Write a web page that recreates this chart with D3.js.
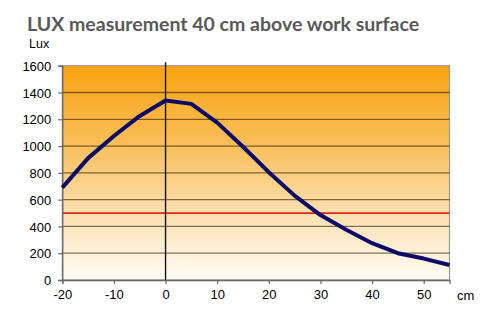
<!DOCTYPE html>
<html>
<head>
<meta charset="utf-8">
<script src="https://cdn.jsdelivr.net/npm/d3@7"></script>
<style>
  html, body { margin: 0; padding: 0; background: #fff; }
  svg { display: block; }
</style>
</head>
<body>
<svg id="chart" width="500" height="325"></svg>
<script>
// Distance from centre (cm) and measured illuminance (lux)
const distances = [-20, -15, -10, -5, 0, 5, 10, 15, 20, 25, 30, 35, 40, 45, 50, 55];
const luxValues = [690, 910, 1075, 1225, 1340, 1315, 1175, 995, 805, 630, 485, 375, 275, 200, 160, 112];
const xTicks = [-20, -10, 0, 10, 20, 30, 40, 50];
const yTicks = [0, 200, 400, 600, 800, 1000, 1200, 1400, 1600];
const threshold = [500];

const svg = d3.select("#chart");
const plotLeft = 62.3, plotRight = 449.5, plotTop = 65.7, plotBottom = 280;

const x = d3.scaleLinear().domain([-20, 55]).range([plotLeft, plotRight]);
const y = d3.scaleLinear().domain([0, 1600]).range([plotBottom, plotTop]);

// Background gradient of the plot area
const defs = svg.append("defs");
const grad = defs.append("linearGradient")
  .attr("id", "bg").attr("x1", 0).attr("y1", 0).attr("x2", 0).attr("y2", 1);
grad.append("stop").attr("offset", "0%").attr("stop-color", "#f8a312");
grad.append("stop").attr("offset", "35%").attr("stop-color", "#f9bd55");
grad.append("stop").attr("offset", "65%").attr("stop-color", "#fcdca6");
grad.append("stop").attr("offset", "100%").attr("stop-color", "#fffcf6");

svg.append("rect")
  .attr("x", plotLeft).attr("y", plotTop)
  .attr("width", plotRight - plotLeft).attr("height", plotBottom - plotTop)
  .attr("fill", "url(#bg)")
  .attr("stroke", "#9a9a9a").attr("stroke-width", 1.2);

// Horizontal gridlines
svg.append("g")
  .selectAll("line")
  .data(yTicks.filter(d => d > 0 && d < 1600))
  .join("line")
  .attr("x1", plotLeft).attr("x2", plotRight)
  .attr("y1", d => y(d)).attr("y2", d => y(d))
  .attr("stroke", "#2a1a00").attr("stroke-opacity", 0.6).attr("stroke-width", 1.3);

// Threshold line at 500 lux
svg.append("g")
  .selectAll("line")
  .data(threshold)
  .join("line")
  .attr("x1", plotLeft).attr("x2", plotRight)
  .attr("y1", d => y(d)).attr("y2", d => y(d))
  .attr("stroke", "#e3261a").attr("stroke-width", 1.8);

// Vertical reference line at 0 cm
svg.append("line")
  .attr("x1", x(0)).attr("x2", x(0))
  .attr("y1", plotTop - 3.5).attr("y2", plotBottom)
  .attr("stroke", "#111").attr("stroke-width", 1.4);

// Axes (plain integer labels with ASCII hyphen for negatives)
const plain = d => String(d);
const yAxis = d3.axisLeft(y).tickValues(yTicks).tickFormat(plain).tickSize(4).tickPadding(7);
const xAxis = d3.axisBottom(x).tickValues(xTicks).tickFormat(plain).tickSize(4).tickPadding(6);

const gy = svg.append("g").attr("transform", `translate(${plotLeft},0)`).call(yAxis);
const gx = svg.append("g").attr("transform", `translate(0,${plotBottom})`).call(xAxis);

[gy, gx].forEach(g => {
  g.select(".domain").attr("stroke", "#666").attr("stroke-width", 1.3);
  g.selectAll(".tick line").attr("stroke", "#666").attr("stroke-width", 1.2);
  g.selectAll(".tick text")
    .attr("fill", "#000")
    .attr("font-family", "Liberation Sans, Arial, sans-serif")
    .attr("font-size", 13);
});
gy.selectAll(".tick text").attr("dy", "0.36em");

// Measurement curve
const line = d3.line()
  .x((d, i) => x(distances[i]))
  .y(d => y(d));

svg.append("path")
  .datum(luxValues)
  .attr("d", line)
  .attr("fill", "none")
  .attr("stroke", "#0c0b6a")
  .attr("stroke-width", 4)
  .attr("stroke-linejoin", "round");

// Labels
svg.append("text")
  .attr("x", 27).attr("y", 31)
  .attr("font-family", "Lato, 'Open Sans', sans-serif")
  .attr("font-weight", "bold")
  .attr("font-size", 19.5)
  .attr("fill", "#595959")
  .text("LUX measurement 40 cm above work surface");

svg.append("text")
  .attr("x", 29).attr("y", 48)
  .attr("font-family", "Liberation Sans, Arial, sans-serif")
  .attr("font-size", 12.5)
  .attr("fill", "#000")
  .text("Lux");

svg.append("text")
  .attr("x", 457).attr("y", 300)
  .attr("font-family", "Liberation Sans, Arial, sans-serif")
  .attr("font-size", 13)
  .attr("fill", "#000")
  .text("cm");
</script>
</body>
</html>
